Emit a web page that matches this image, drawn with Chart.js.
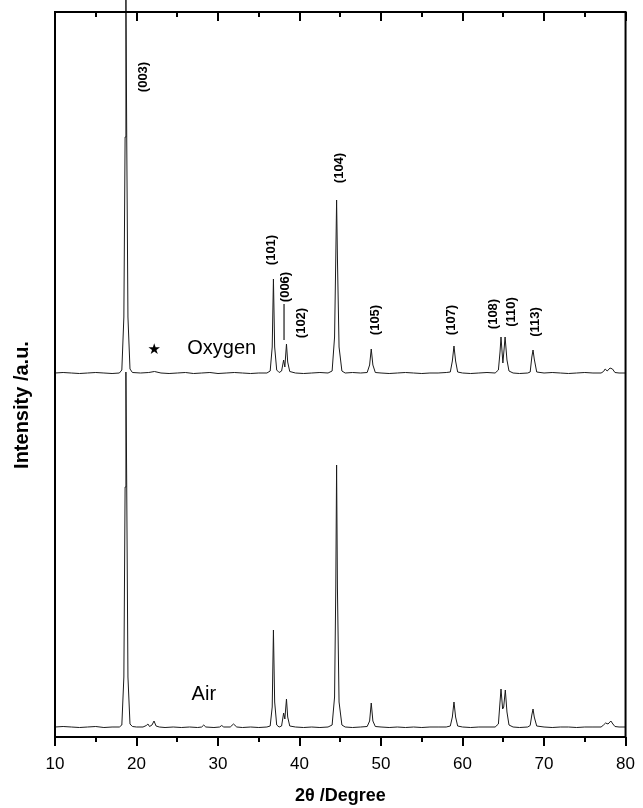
<!DOCTYPE html>
<html>
<head>
<meta charset="utf-8">
<script src="https://cdn.jsdelivr.net/npm/chart.js@4.4.1/dist/chart.umd.min.js"></script>
<style>
  html, body { margin: 0; padding: 0; background: #fff; }
  #wrap { width: 643px; height: 808px; }
</style>
</head>
<body>
<div id="wrap"><canvas id="xrd"></canvas></div>
<script>
// 2theta / intensity pairs (arbitrary units, oxygen pattern offset upward)
const airX = [10, 11, 12, 13, 14, 15, 16, 17, 17.9, 18.2, 18.45, 18.6, 18.7, 18.8, 18.95, 19.2, 19.5, 20, 20.8, 21.2, 21.4, 21.6, 21.9, 22.15, 22.4, 22.8, 23.5, 24.5, 25.5, 26.5, 27.5, 28, 28.25, 28.5, 29.5, 30.2, 30.45, 30.7, 31.5, 31.9, 32.3, 33, 34, 35, 36, 36.4, 36.65, 36.8, 36.95, 37.2, 37.5, 37.8, 38.05, 38.2, 38.4, 38.55, 38.8, 39.5, 40.5, 41.5, 42.5, 43.5, 44, 44.3, 44.45, 44.55, 44.65, 44.85, 45.2, 45.6, 46.5, 47.5, 48.3, 48.6, 48.8, 49, 49.3, 50, 51, 52, 53, 54, 55, 56, 57, 58, 58.5, 58.75, 58.95, 59.15, 59.4, 60, 61, 62, 63, 64, 64.4, 64.6, 64.72, 64.92, 65.05, 65.25, 65.45, 65.7, 66.2, 67, 68, 68.3, 68.5, 68.65, 68.8, 69.1, 70, 71, 72, 73, 74, 75, 76, 77, 77.3, 77.55, 77.85, 78.2, 78.45, 78.7, 79.2, 80];
const airY = [10, 10.5, 10, 9.5, 10, 10.5, 9.5, 10, 10, 12, 60, 250, 365, 250, 60, 13, 10.5, 10, 10, 11.5, 13, 10.5, 12, 16, 11, 10, 9.5, 10, 9.5, 10, 9.5, 10, 12, 10, 9.5, 10, 11.5, 10, 10, 13, 10, 9.5, 10, 9.5, 10, 11, 30, 107, 35, 12, 10, 11, 24, 18, 38, 20, 11, 10, 9.5, 10, 9.5, 10, 12, 40, 150, 272, 150, 35, 12, 10, 9.5, 10, 10.5, 16, 34, 16, 10.5, 10, 9.5, 10, 9.5, 10, 9.5, 10, 10, 10, 11, 20, 35, 20, 11, 10, 9.5, 10, 10, 10, 13, 35, 48, 28, 30, 47, 25, 12, 10, 9.5, 10, 11.5, 22, 28, 20, 11, 10, 9.5, 10, 10, 9.5, 10, 10, 10, 12, 14, 13, 16, 13, 10.5, 10, 10];

const oxyX = [10, 11, 12, 13, 14, 15, 16, 17, 17.9, 18.2, 18.45, 18.6, 18.7, 18.8, 18.95, 19.2, 19.5, 20.5, 21.5, 22.2, 23, 24, 25, 26, 27, 28, 29, 30, 31, 32, 33, 34, 35, 36, 36.4, 36.65, 36.8, 36.95, 37.2, 37.5, 37.8, 38.05, 38.2, 38.4, 38.55, 38.8, 39.5, 40.5, 41.5, 42.5, 43.5, 44, 44.3, 44.45, 44.55, 44.65, 44.85, 45.2, 45.6, 46.5, 47.5, 48.3, 48.6, 48.8, 49, 49.3, 50, 51, 52, 53, 54, 55, 56, 57, 58, 58.5, 58.75, 58.95, 59.15, 59.4, 60, 61, 62, 63, 64, 64.4, 64.6, 64.72, 64.95, 65.1, 65.22, 65.45, 65.7, 66.2, 67, 68, 68.3, 68.5, 68.65, 68.8, 69.1, 70, 71, 72, 73, 74, 75, 76, 77, 77.3, 77.5, 77.75, 78.1, 78.4, 78.7, 79.2, 80];
const oxyY = [364, 364.5, 364, 363.5, 364, 364.5, 364, 363.5, 364, 367, 420, 600, 745, 600, 420, 368, 364.5, 364, 364.5, 365.5, 364, 363.5, 364, 364.5, 363.5, 364, 364.5, 363.5, 364, 364.5, 364, 363.5, 364, 364, 366, 390, 458, 390, 367, 364.5, 366, 377, 370, 393, 375, 365.5, 364, 363.5, 364, 364.5, 364, 366, 400, 480, 537, 480, 390, 366, 364, 364.5, 364, 364.5, 372, 388, 372, 364.5, 364, 363.5, 364, 364.5, 364, 363.5, 364, 364, 364.5, 365, 376, 391, 376, 365, 364, 363.5, 364, 364.5, 364, 367, 385, 400, 374, 388, 400, 377, 366, 364, 363.5, 364, 365, 380, 387, 378, 365, 364, 364.5, 364, 363.5, 364, 364.5, 364, 364, 365.5, 368, 366, 369, 368, 364.5, 364, 364];

// short marker under the (006) label
const markX = [38.1, 38.1];
const markY = [433, 397];

const xTicks = [10, 20, 30, 40, 50, 60, 70, 80];
const xMinorTicks = [15, 25, 35, 45, 55, 65, 75];

const peakLabels = ["(003)", "(101)", "(006)", "(102)", "(104)", "(105)", "(107)", "(108)", "(110)", "(113)"];
const peakLabelX = [20.84, 36.54, 38.24, 40.19, 44.94, 49.32, 58.58, 63.81, 66.0, 68.92];
const peakLabelY = [660, 487, 450, 414, 569, 417, 417, 423, 425, 415];

const sampleNames = ["Oxygen", "Air"];
const sampleNameX = [30.45, 28.26];
const sampleNameY = [389, 43];

function pairs(xs, ys) {
  return xs.map((x, i) => ({ x: x, y: ys[i] }));
}

const fontFam = "'Liberation Sans', Arial, Helvetica, sans-serif";
Chart.defaults.font.family = fontFam;
Chart.defaults.color = "#000";

const frameTicks = {
  id: "frameTicks",
  afterDraw(chart) {
    const { ctx, chartArea: a, scales } = chart;
    const x = scales.x;
    ctx.save();
    ctx.strokeStyle = "#000";
    ctx.lineWidth = 2;
    ctx.strokeRect(a.left, a.top, a.right - a.left, a.bottom - a.top);
    const drawTick = (v, len) => {
      const px = Math.round(x.getPixelForValue(v));
      ctx.beginPath();
      ctx.moveTo(px, a.bottom);
      ctx.lineTo(px, a.bottom + len);
      ctx.moveTo(px, a.top);
      ctx.lineTo(px, a.top + len);
      ctx.stroke();
    };
    xTicks.forEach(v => drawTick(v, 9));
    xMinorTicks.forEach(v => drawTick(v, 5));

    // y axis title
    ctx.fillStyle = "#000";
    ctx.font = "bold 20px " + fontFam;
    ctx.textAlign = "center";
    ctx.textBaseline = "middle";
    ctx.save();
    ctx.translate(22, 405);
    ctx.rotate(-Math.PI / 2);
    ctx.fillText("Intensity /a.u.", 0, 0);
    ctx.restore();
    ctx.restore();
  }
};

const labelsPlugin = {
  id: "peakText",
  afterDatasetsDraw(chart) {
    const { ctx, scales } = chart;
    const x = scales.x, y = scales.y;
    ctx.save();
    ctx.fillStyle = "#000";
    ctx.textAlign = "center";
    ctx.textBaseline = "middle";
    ctx.font = "bold 13px " + fontFam;
    peakLabels.forEach((t, i) => {
      ctx.save();
      ctx.translate(x.getPixelForValue(peakLabelX[i]), y.getPixelForValue(peakLabelY[i]));
      ctx.rotate(-Math.PI / 2);
      ctx.fillText(t, 0, 0);
      ctx.restore();
    });
    ctx.font = "20px " + fontFam;
    sampleNames.forEach((t, i) => {
      ctx.fillText(t, x.getPixelForValue(sampleNameX[i]), y.getPixelForValue(sampleNameY[i]));
    });
    ctx.font = "15px 'DejaVu Sans', sans-serif";
    ctx.fillText("\u2605", x.getPixelForValue(22.17), y.getPixelForValue(387));
    ctx.restore();
  }
};

new Chart(document.getElementById("xrd"), {
  type: "line",
  data: {
    datasets: [
      { label: "Air", data: pairs(airX, airY), borderColor: "#1a1a1a", borderWidth: 1, pointRadius: 0, tension: 0, clip: false },
      { label: "Oxygen", data: pairs(oxyX, oxyY), borderColor: "#1a1a1a", borderWidth: 1, pointRadius: 0, tension: 0, clip: false },
      { label: "mark", data: pairs(markX, markY), borderColor: "#1a1a1a", borderWidth: 1.2, pointRadius: 0 }
    ]
  },
  options: {
    responsive: true,
    maintainAspectRatio: false,
    animation: false,
    layout: { padding: { left: 55, right: 13, top: 12, bottom: 0 } },
    plugins: { legend: { display: false }, tooltip: { enabled: false } },
    scales: {
      x: {
        type: "linear",
        min: 10,
        max: 80,
        afterBuildTicks: axis => { axis.ticks = xTicks.map(v => ({ value: v })); },
        ticks: { color: "#000", font: { size: 17 }, padding: 8 },
        grid: { drawOnChartArea: false, drawTicks: true, tickLength: 9, tickColor: "rgba(0,0,0,0)" },
        border: { display: false },
        title: { display: true, text: "2\u03b8 /Degree", color: "#000", font: { size: 18, weight: "bold" }, padding: { top: 0, bottom: 1 } },
        afterFit: axis => { axis.height = 71; }
      },
      y: { display: false, min: 0, max: 725 }
    }
  },
  plugins: [frameTicks, labelsPlugin]
});
</script>
</body>
</html>
